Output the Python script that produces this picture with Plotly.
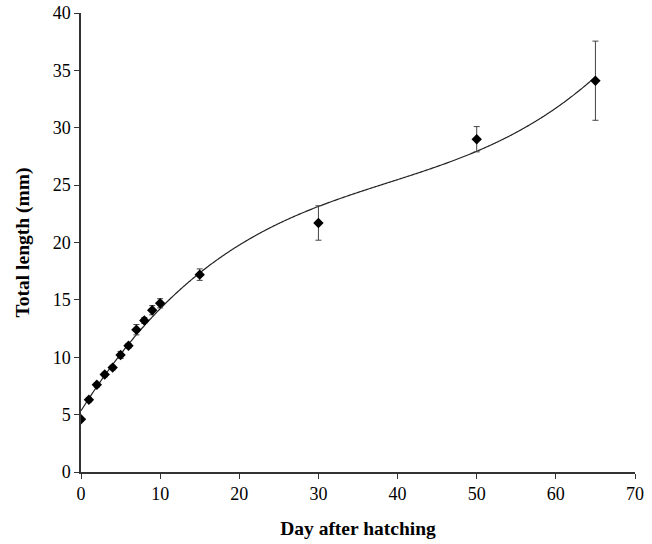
import numpy as np
import plotly.graph_objects as go

days = [0, 1, 2, 3, 4, 5, 6, 7, 8, 9, 10, 15, 30, 50, 65]
length_mm = [4.6, 6.3, 7.6, 8.5, 9.1, 10.2, 11.0, 12.4, 13.2, 14.1, 14.7, 17.2, 21.7, 29.0, 34.1]
sd_mm = [0.15, 0.2, 0.2, 0.2, 0.2, 0.3, 0.2, 0.45, 0.25, 0.4, 0.4, 0.5, 1.5, 1.1, 3.45]

x_ticks = [0, 10, 20, 30, 40, 50, 60, 70]
y_ticks = [0, 5, 10, 15, 20, 25, 30, 35, 40]

# polynomial (order 3) trendline fitted from the data
coef = np.polyfit(days, length_mm, 3)
xf = np.linspace(0, 65, 400)
yf = np.polyval(coef, xf)

fig = go.Figure()
fig.add_trace(go.Scatter(x=xf, y=yf, mode="lines",
                         line=dict(color="#222222", width=1.2, shape="spline"),
                         showlegend=False, hoverinfo="skip"))
fig.add_trace(go.Scatter(x=days, y=length_mm, mode="markers",
                         marker=dict(symbol="diamond", size=8, color="black"),
                         error_y=dict(type="data", array=sd_mm, visible=True,
                                      color="#444444", thickness=1, width=3),
                         showlegend=False))

font_family = "Liberation Serif, Times New Roman, serif"
fig.update_layout(
    width=652, height=544,
    margin=dict(l=81, r=17, t=13, b=72, autoexpand=False),
    paper_bgcolor="white", plot_bgcolor="white",
    font=dict(family=font_family, size=18, color="black"),
)
fig.update_xaxes(range=[0, 70], tickvals=x_ticks, showgrid=False, zeroline=False,
                 showline=True, linecolor="#333333", linewidth=1.5,
                 ticks="outside", ticklen=5, tickcolor="#333333",
                 tickfont=dict(size=18), automargin=False,
                 title=dict(text="<b>Day after hatching</b>", font=dict(size=19.5), standoff=18))
fig.update_yaxes(range=[0, 40], tickvals=y_ticks, showgrid=False, zeroline=False,
                 showline=True, linecolor="#333333", linewidth=1.5,
                 ticks="outside", ticklen=5, tickcolor="#333333",
                 tickfont=dict(size=18), automargin=False,
                 title=dict(text="<b>Total length (mm)</b>", font=dict(size=19.5), standoff=18))

fig.write_html("out.html", config={"displayModeBar": False},
               post_script="document.body.style.margin='0';document.body.style.overflow='hidden';")
